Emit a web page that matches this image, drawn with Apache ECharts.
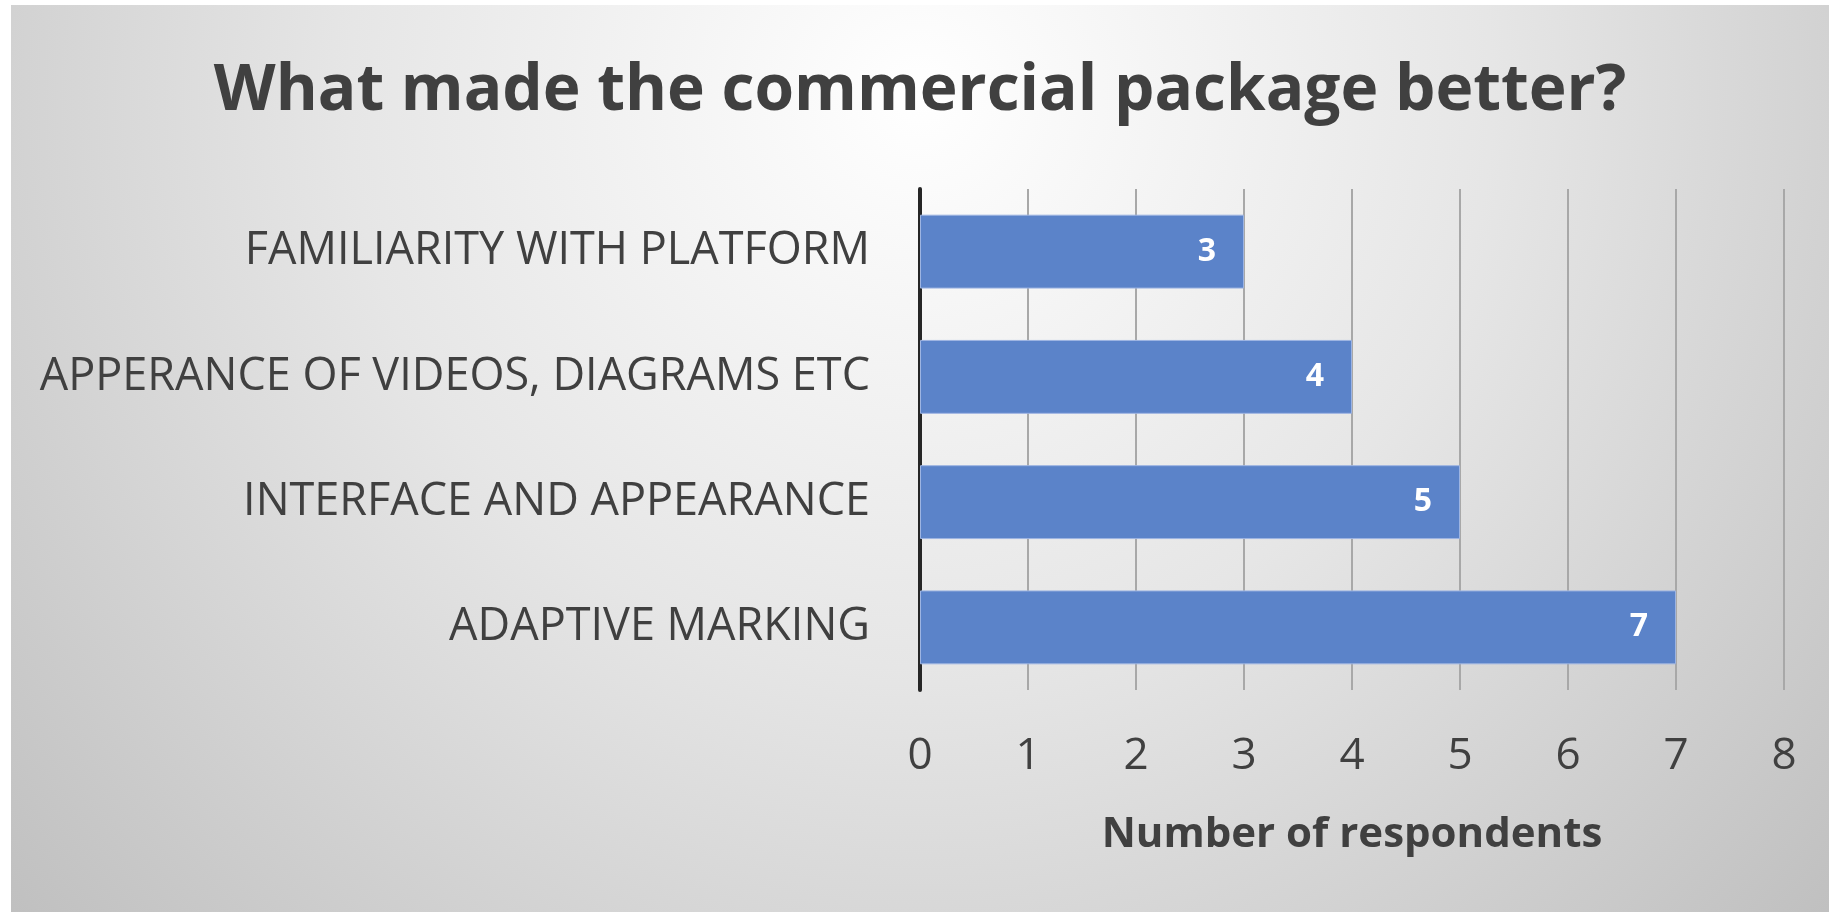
<!DOCTYPE html>
<html>
<head>
<meta charset="utf-8">
<script src="https://cdn.jsdelivr.net/npm/echarts@6/dist/echarts.min.js"></script>
<style>
  html, body { margin: 0; padding: 0; background: #ffffff; width: 1829px; height: 912px; overflow: hidden; }
  #chart { position: absolute; left: 11px; top: 5px; width: 1818px; height: 907px; }
</style>
</head>
<body>
<div id="chart"></div>
<script>
const categories = [
  'FAMILIARITY WITH PLATFORM',
  'APPERANCE OF VIDEOS, DIAGRAMS ETC',
  'INTERFACE AND APPEARANCE',
  'ADAPTIVE MARKING'
];
const respondents = [3, 4, 5, 7];
const xTicks = [0, 1, 2, 3, 4, 5, 6, 7, 8];

const FONT = '"Open Sans", sans-serif';
const TEXT = '#404040';

const chart = echarts.init(document.getElementById('chart'), null, { renderer: 'canvas' });
chart.setOption({
  animation: false,
  backgroundColor: {
    type: 'radial', x: 0.5, y: 0.1, r: 1.4,
    colorStops: [
      { offset: 0, color: '#ffffff' },
      { offset: 0.45, color: '#e6e6e6' },
      { offset: 1, color: '#bdbdbd' }
    ]
  },
  title: {
    text: 'What made the commercial package better?',
    left: 'center',
    top: 50,
    textStyle: { fontFamily: FONT, fontSize: 64, fontWeight: 'bold', color: TEXT }
  },
  grid: { left: 909, right: 45, top: 184, bottom: 222, containLabel: false },
  xAxis: {
    type: 'value',
    min: xTicks[0],
    max: xTicks[xTicks.length - 1],
    interval: 1,
    name: 'Number of respondents',
    nameLocation: 'middle',
    nameGap: 124,
    nameTextStyle: { fontFamily: FONT, fontSize: 42, fontWeight: 'bold', color: TEXT },
    axisLine: { show: false },
    axisTick: { show: false },
    axisLabel: { fontFamily: FONT, fontSize: 44, color: TEXT, margin: 44 },
    splitLine: { show: true, lineStyle: { color: '#a8a8a8', width: 2 } }
  },
  yAxis: {
    type: 'category',
    data: categories,
    inverse: true,
    axisLine: { show: true, lineStyle: { color: '#262626', width: 4 } },
    axisTick: { show: false },
    axisLabel: { fontFamily: FONT, fontSize: 45, color: TEXT, margin: 50 }
  },
  series: [{
    type: 'bar',
    data: respondents,
    barCategoryGap: '41%',
    itemStyle: { color: '#5b83c9', borderColor: '#9db4e2', borderWidth: 1 },
    label: {
      show: true,
      position: 'insideRight',
      distance: 28,
      fontFamily: FONT,
      fontSize: 32,
      fontWeight: 'bold',
      color: '#ffffff'
    }
  }]
});
</script>
</body>
</html>
